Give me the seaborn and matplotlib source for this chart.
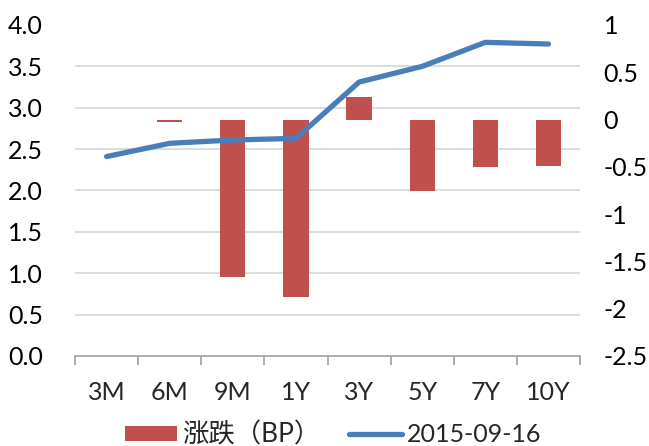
import numpy as np
import pandas as pd
import matplotlib
matplotlib.use("Agg")
import matplotlib.pyplot as plt
from matplotlib.ticker import FixedLocator
from matplotlib.patches import Patch
from matplotlib.lines import Line2D
import seaborn as sns

tenors = ["3M", "6M", "9M", "1Y", "3Y", "5Y", "7Y", "10Y"]
change_bp = [0.0, -0.025, -1.66, -1.88, 0.24, -0.76, -0.50, -0.49]
yields_0916 = [2.41, 2.57, 2.61, 2.63, 3.31, 3.50, 3.79, 3.77]
left_ticks = [0.0, 0.5, 1.0, 1.5, 2.0, 2.5, 3.0, 3.5, 4.0]
right_ticks = [-2.5, -2, -1.5, -1, -0.5, 0, 0.5, 1]
right_labels = ["-2.5", "-2", "-1.5", "-1", "-0.5", "0", "0.5", "1"]
bar_label = "涨跌（BP）"
line_label = "2015-09-16"

sns.set_theme(style="white")
plt.rcParams["font.family"] = ["Lato", "Noto Sans CJK SC", "DejaVu Sans"]
FS = 18

bar_color = "#C0504D"
line_color = "#4A7EBB"
grid_color = "#D9D9D9"
axis_color = "#A6A6A6"

fig = plt.figure(figsize=(6.49, 4.46), dpi=100)
ax = fig.add_axes([0.1156, 0.2018, 0.7781, 0.7422])
ax2 = ax.twinx()

df = pd.DataFrame({"tenor": tenors, "change": change_bp, "yield": yields_0916})

# bars on right axis
sns.barplot(data=df, x="tenor", y="change", color=bar_color, saturation=1,
            width=0.4, ax=ax, zorder=2, linewidth=0, edgecolor="none")
ax.set_ylim(-2.5, 1.0)
ax.yaxis.set_ticks_position("right")
ax.yaxis.set_label_position("right")
ax.set_yticks(right_ticks)
ax.set_yticklabels(right_labels)
lmin, lmax = left_ticks[0], left_ticks[-1]
grid_pos = [-2.5 + (v - lmin) * 3.5 / (lmax - lmin) for v in left_ticks[1:]]
ax.yaxis.set_minor_locator(FixedLocator(grid_pos))
ax.grid(which="minor", axis="y", color=grid_color, linewidth=1.3, zorder=0)
ax.grid(which="major", visible=False)
ax.set_axisbelow(True)
ax.tick_params(axis="y", which="major", length=0, pad=17, labelsize=FS,
               colors="black", left=False, labelleft=False, right=False, labelright=True)
ax.tick_params(axis="y", which="minor", length=0, left=False, right=False)

ax.set_xlim(-0.5, len(tenors) - 0.5)
ax.xaxis.set_minor_locator(FixedLocator(np.arange(-0.5, len(tenors), 1.0)))
ax.tick_params(axis="x", which="major", length=0, pad=18, labelsize=FS)
ax.tick_params(axis="x", which="minor", bottom=True, length=6.5, width=1.3,
               color=axis_color, direction="out")
ax.set_xlabel("")
ax.set_ylabel("")
for s in ["left", "right", "top"]:
    ax.spines[s].set_visible(False)
ax.spines["bottom"].set_color(axis_color)
ax.spines["bottom"].set_linewidth(1.3)

# line on left axis
sns.lineplot(x=np.arange(len(tenors)), y=df["yield"].values, color=line_color,
             linewidth=3.8, ax=ax2, solid_capstyle="round", solid_joinstyle="round")
ax2.set_ylim(lmin, lmax)
ax2.set_yticks(left_ticks)
ax2.set_yticklabels([f"{v:.1f}" for v in left_ticks])
ax2.tick_params(axis="y", length=0, pad=23, labelsize=FS, colors="black",
                left=False, labelleft=True, right=False, labelright=False)
ax2.set_ylabel("")
for s in ["left", "right", "top", "bottom"]:
    ax2.spines[s].set_visible(False)
ax2.grid(False)

handles = [Patch(facecolor=bar_color, edgecolor="none"),
           Line2D([0], [0], color=line_color, linewidth=3.8)]
leg = fig.legend(handles, [bar_label, line_label], loc="center",
                 bbox_to_anchor=(0.513, 0.025), ncol=2, frameon=False,
                 fontsize=FS, handlelength=2.1, handleheight=0.55,
                 handletextpad=0.2, columnspacing=1.15)
leg.get_texts()[0].set_fontsize(19)

fig.savefig("out.png", dpi=100)
